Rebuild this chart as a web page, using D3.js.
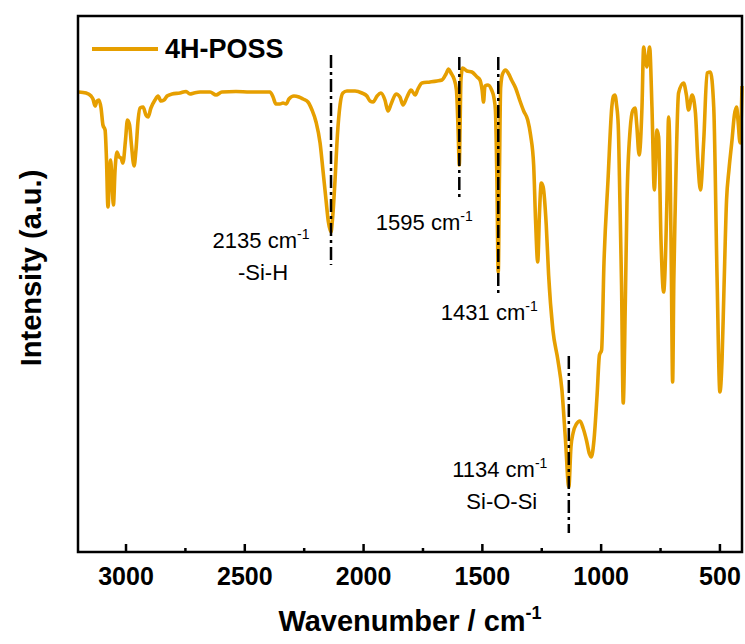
<!DOCTYPE html>
<html lang="en">
<head>
<meta charset="utf-8">
<title>4H-POSS FTIR</title>
<script src="https://cdn.jsdelivr.net/npm/d3@7"></script>
<style>
  body { margin: 0; background: #fff; }
  svg text { font-family: "Liberation Sans", Arial, sans-serif; fill: #000; }
  .axis .tick text { font-weight: bold; font-size: 25px; }
  .axis .tick line { stroke: #000; stroke-width: 2.5; }
  .label { font-weight: bold; font-size: 29px; }
  .note { font-size: 22px; }
</style>
</head>
<body>
<div id="chart"></div>
<script>
// spectrum (wavenumber in cm-1, intensity in a.u.)
var wavenumber = [3196, 3166, 3145, 3137, 3128, 3120, 3112, 3103, 3095, 3086, 3080, 3074, 3067, 3063, 3057, 3051, 3044, 3036, 3027, 3019, 3011, 3000, 2992, 2983, 2975, 2964, 2956, 2947, 2939, 2926, 2914, 2905, 2893, 2876, 2863, 2851, 2838, 2825, 2804, 2771, 2745, 2729, 2712, 2686, 2644, 2619, 2594, 2535, 2476, 2425, 2392, 2379, 2367, 2350, 2337, 2324, 2312, 2291, 2270, 2253, 2232, 2215, 2198, 2181, 2169, 2156, 2146, 2135, 2129, 2118, 2108, 2097, 2085, 2068, 2034, 2005, 1984, 1971, 1958, 1941, 1925, 1908, 1895, 1882, 1861, 1845, 1832, 1815, 1798, 1781, 1769, 1752, 1718, 1689, 1668, 1651, 1640, 1630, 1617, 1607, 1600, 1595, 1592, 1588, 1581, 1563, 1542, 1520, 1508, 1499, 1493, 1487, 1474, 1459, 1449, 1443, 1437, 1431, 1426, 1421, 1413, 1400, 1387, 1375, 1358, 1341, 1324, 1307, 1295, 1282, 1274, 1265, 1257, 1250, 1242, 1229, 1219, 1201, 1180, 1163, 1148, 1134, 1125, 1116, 1102, 1087, 1074, 1060, 1047, 1039, 1028, 1015, 1005, 996, 986, 969, 953, 946, 940, 933, 926, 919, 912, 905, 896, 889, 876, 864, 855, 848, 838, 826, 819, 812, 805, 800, 794, 784, 774, 763, 756, 746, 735, 721, 714, 707, 702, 697, 692, 686, 672, 651, 639, 630, 615, 601, 591, 580, 566, 552, 538, 524, 510, 498, 489, 481, 470, 460, 447, 437, 428, 422, 413, 405];
var intensity = [92.0, 91.8, 91.2, 90.6, 89.2, 90.2, 90.4, 88.8, 85.4, 84.4, 78.4, 69.0, 75.4, 78.4, 74.4, 69.4, 76.4, 80.0, 79.0, 78.8, 77.8, 82.4, 86.4, 85.4, 81.4, 77.2, 80.4, 86.4, 88.8, 89.0, 87.4, 87.0, 88.8, 90.4, 91.2, 90.2, 90.4, 91.2, 91.6, 91.8, 92.1, 91.6, 91.8, 92.0, 92.0, 91.4, 92.0, 92.1, 92.0, 92.0, 92.0, 91.0, 89.6, 89.6, 89.8, 89.6, 90.6, 91.2, 91.0, 90.6, 90.0, 88.4, 86.0, 81.8, 76.4, 70.4, 66.0, 64.0, 66.4, 74.4, 83.4, 89.4, 91.8, 92.2, 92.2, 91.8, 91.2, 90.2, 90.0, 91.2, 91.8, 90.4, 88.2, 89.6, 91.6, 91.0, 89.4, 91.0, 92.4, 91.4, 92.6, 93.8, 94.0, 94.2, 94.4, 95.6, 96.6, 95.8, 94.6, 92.4, 84.4, 77.4, 84.4, 94.4, 96.8, 96.2, 96.0, 95.0, 94.4, 92.4, 90.0, 93.2, 93.4, 92.4, 90.8, 88.4, 75.4, 56.0, 75.4, 92.8, 95.6, 96.4, 95.6, 94.4, 92.8, 90.4, 88.2, 86.4, 83.4, 77.4, 66.4, 58.0, 68.4, 73.8, 73.0, 65.4, 55.4, 44.4, 38.4, 32.4, 22.4, 13.0, 21.0, 23.8, 25.6, 26.2, 24.8, 22.4, 19.6, 19.0, 22.4, 31.4, 39.4, 40.4, 57.8, 74.4, 89.0, 91.2, 91.4, 89.4, 85.4, 70.4, 53.4, 29.8, 50.4, 70.4, 84.4, 88.4, 88.8, 85.4, 79.4, 89.0, 101.0, 98.4, 97.0, 98.8, 101.0, 89.0, 72.4, 84.4, 83.0, 62.4, 52.0, 70.4, 87.0, 75.4, 54.4, 34.0, 54.4, 69.0, 91.8, 93.8, 91.4, 88.4, 91.4, 87.8, 78.4, 72.4, 82.4, 95.8, 96.0, 89.0, 55.0, 32.0, 38.4, 52.4, 70.4, 76.4, 82.4, 87.4, 89.0, 86.4, 81.8, 93.2];

var seriesName = "4H-POSS";
var xTicks = [3000, 2500, 2000, 1500, 1000, 500];
var xMinorTicks = [2750, 2250, 1750, 1250, 750];

// marked peaks
var peakPos = [2135, 1595, 1431, 1134];
var peakText = ["2135", "1595", "1431", "1134"];
var peakGroup = ["-Si-H", "", "", "Si-O-Si"];

var w = 745, h = 644;
var m = {left: 78, right: 3, top: 16, bottom: 92};
var lineColor = "#E69F00";

var svg = d3.select("#chart").append("svg")
  .attr("width", w)
  .attr("height", h);

var x = d3.scaleLinear().domain([3200, 405]).range([m.left, w - m.right]);
var y = d3.scaleLinear().domain([0, 107.2]).range([h - m.bottom, m.top]);

var data = wavenumber.map(function(d, i) { return [d, intensity[i]]; });

// minor and major ticks, pointing inside
svg.append("g")
  .attr("class", "axis")
  .attr("transform", "translate(0," + (h - m.bottom) + ")")
  .call(d3.axisBottom(x).tickValues(xMinorTicks).tickSize(-4).tickFormat(""))
  .call(function(g) { g.select(".domain").remove(); });

svg.append("g")
  .attr("class", "axis")
  .attr("transform", "translate(0," + (h - m.bottom) + ")")
  .call(d3.axisBottom(x).tickValues(xTicks).tickSize(-8).tickPadding(15).tickFormat(d3.format("d")))
  .call(function(g) { g.select(".domain").remove(); });

// spectrum
var line = d3.line()
  .x(function(d) { return x(d[0]); })
  .y(function(d) { return y(d[1]); })
  .curve(d3.curveMonotoneX);

svg.append("path")
  .datum(data)
  .attr("fill", "none")
  .attr("stroke", lineColor)
  .attr("stroke-width", 3.6)
  .attr("stroke-linejoin", "round")
  .attr("d", line);

// dash-dot markers and labels
var markTop = [99.4, 99, 99, 39.2];
var markBottom = [57.4, 70.4, 51, 3.8];
var labelDx = [-70, -35, -9, -69];
var labelY = [248, 230, 320, 477];

peakPos.forEach(function(p, i) {
  svg.append("line")
    .attr("x1", x(p)).attr("x2", x(p))
    .attr("y1", y(markTop[i])).attr("y2", y(markBottom[i]))
    .attr("stroke", "#000")
    .attr("stroke-width", 2.5)
    .attr("stroke-dasharray", "13,4,3,4");

  var t = svg.append("text")
    .attr("class", "note")
    .attr("text-anchor", "middle")
    .attr("x", x(p) + labelDx[i])
    .attr("y", labelY[i]);
  t.append("tspan").text(peakText[i] + " cm");
  t.append("tspan").attr("dy", -9).attr("font-size", 14).text("-1");

  if (peakGroup[i]) {
    svg.append("text")
      .attr("class", "note")
      .attr("text-anchor", "middle")
      .attr("x", x(p) + labelDx[i] + 2)
      .attr("y", labelY[i] + 32)
      .text(peakGroup[i]);
  }
});

// frame
svg.append("rect")
  .attr("x", m.left)
  .attr("y", m.top)
  .attr("width", w - m.left - m.right)
  .attr("height", h - m.top - m.bottom)
  .attr("fill", "none")
  .attr("stroke", "#000")
  .attr("stroke-width", 2.5);

// legend
svg.append("line")
  .attr("x1", 92).attr("x2", 158)
  .attr("y1", 49).attr("y2", 49)
  .attr("stroke", lineColor)
  .attr("stroke-width", 4);

svg.append("text")
  .attr("x", 165)
  .attr("y", 58)
  .attr("font-weight", "bold")
  .attr("font-size", 27)
  .text(seriesName);

// axis titles
var xt = svg.append("text")
  .attr("class", "label")
  .attr("text-anchor", "middle")
  .attr("x", (m.left + w - m.right) / 2)
  .attr("y", 631);
xt.append("tspan").text("Wavenumber / cm");
xt.append("tspan").attr("dy", -12).attr("font-size", 18).text("-1");

svg.append("text")
  .attr("class", "label")
  .attr("text-anchor", "middle")
  .attr("font-size", 30)
  .attr("transform", "translate(41,268) rotate(-90)")
  .text("Intensity (a.u.)");
</script>
</body>
</html>
